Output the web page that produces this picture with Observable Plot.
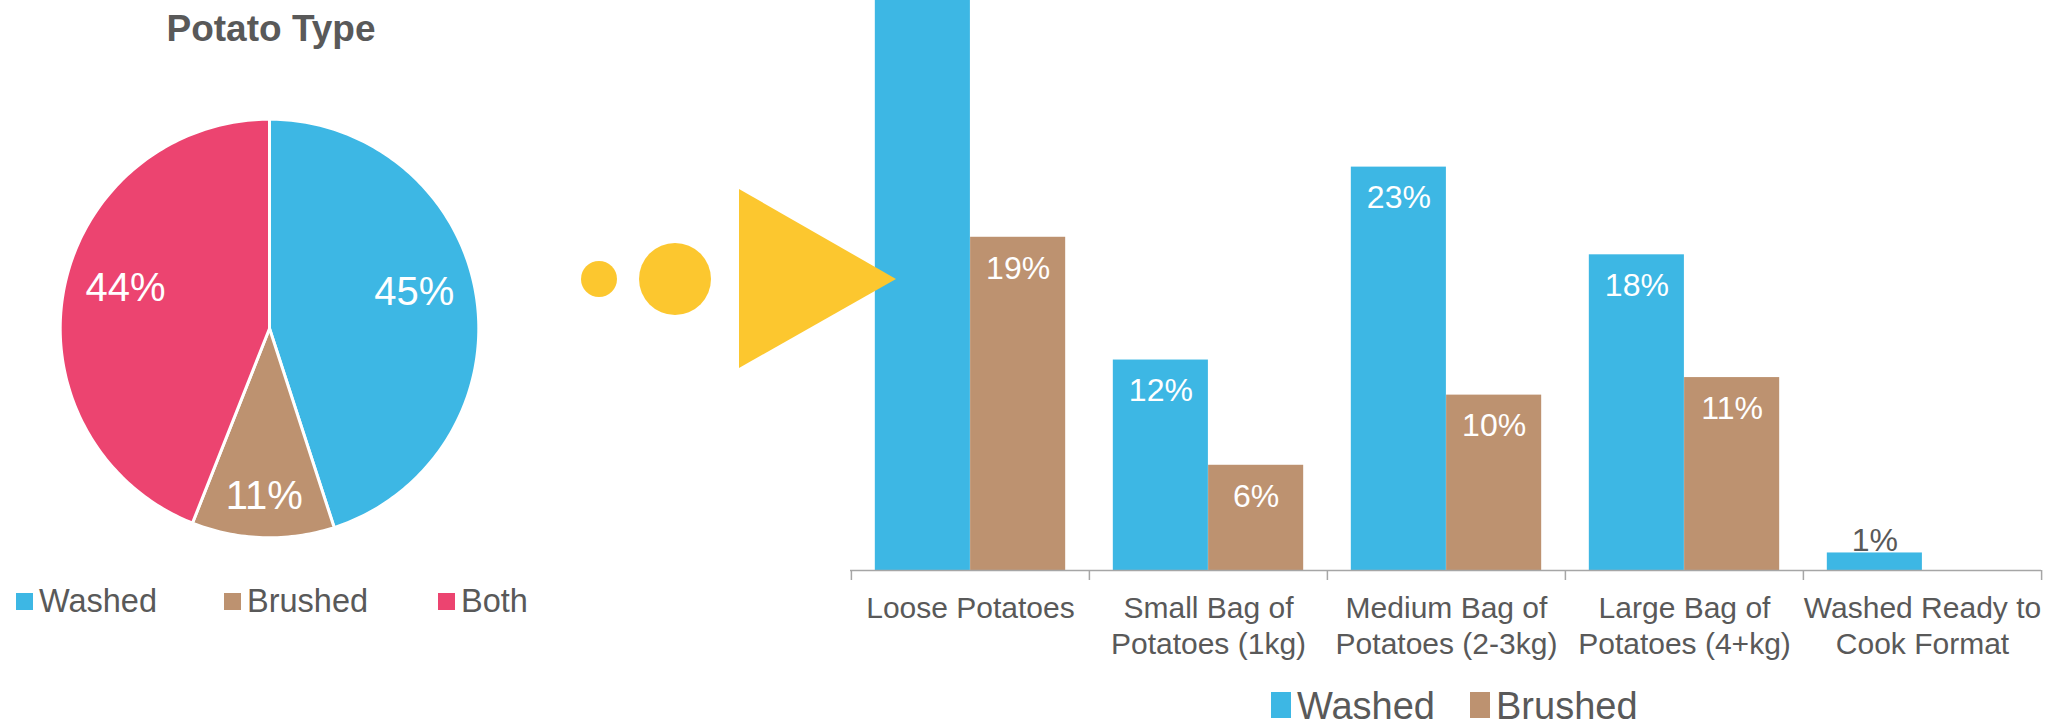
<!DOCTYPE html>
<html><head><meta charset="utf-8">
<script src="https://cdn.jsdelivr.net/npm/d3@7"></script>
<script src="https://cdn.jsdelivr.net/npm/@observablehq/plot@0.6"></script>
<style>
body{margin:0;background:#fff;}
#root{position:relative;width:2045px;height:726px;overflow:hidden;font-family:"Liberation Sans",Arial,sans-serif;background:#fff;}
.abs{position:absolute;}
.lg{position:absolute;color:#595959;white-space:nowrap;}
.sw{position:absolute;}
</style></head><body><div id="root"></div>
<script>
// ---- data ----
const pieTitle = "Potato Type";
const pieLabels = ["Washed", "Brushed", "Both"];
const pieValues = [45, 11, 44];
const pieColors = ["#3DB7E4", "#BD9270", "#EC4470"];

const categories = ["Loose Potatoes", "Small Bag of\nPotatoes (1kg)", "Medium Bag of\nPotatoes (2-3kg)", "Large Bag of\nPotatoes (4+kg)", "Washed Ready to\nCook Format"];
const seriesNames = ["Washed", "Brushed"];
const washed = [35, 12, 23, 18, 1];
const brushed = [19, 6, 10, 11, 0];
const seriesColors = ["#3DB7E4", "#BD9270"];
const accent = "#FCC72F";

const root = document.getElementById("root");
const FONT = '"Liberation Sans", Arial, sans-serif';
const GREY = "#595959";

// ---- pie ----
const total = d3.sum(pieValues);
let acc = 0;
const slices = pieLabels.map((k, i) => {
  const a0 = acc / total * 2 * Math.PI; acc += pieValues[i];
  const a1 = acc / total * 2 * Math.PI;
  return {key: k, value: pieValues[i], a0, a1};
});
const piePts = slices.flatMap(s => {
  const n = Math.max(2, Math.ceil((s.a1 - s.a0) / (Math.PI / 180)));
  const pts = [{key: s.key, x: 0, y: 0}];
  for (let j = 0; j <= n; j++) {
    const a = s.a0 + (s.a1 - s.a0) * j / n;
    pts.push({key: s.key, x: Math.sin(a), y: Math.cos(a)});
  }
  pts.push({key: s.key, x: 0, y: 0});
  return pts;
});
const pieLab = slices.map(s => {
  const m = (s.a0 + s.a1) / 2;
  const f = s.value < 15 ? 0.8 : 0.7;
  return {key: s.key, text: s.value + "%", x: f * Math.sin(m), y: f * Math.cos(m), big: s.value >= 15};
});
const R = 1.29;
const pie = Plot.plot({
  width: 540, height: 540, margin: 0,
  x: {domain: [-R, R], axis: null},
  y: {domain: [-R, R], axis: null},
  color: {domain: pieLabels, range: pieColors},
  style: {background: "transparent", fontFamily: FONT},
  marks: [
    Plot.line(piePts, {x: "x", y: "y", z: "key", fill: "key", stroke: "white", strokeWidth: 3, strokeLinejoin: "round"}),
    Plot.text(pieLab.filter(d => d.big), {x: "x", y: "y", text: "text", fill: "white", fontSize: 40, dy: -13}),
    Plot.text(pieLab.filter(d => !d.big), {x: "x", y: "y", text: "text", fill: "white", fontSize: 40})
  ]
});
pie.style.position = "absolute"; pie.style.left = "-1px"; pie.style.top = "58px";
root.appendChild(pie);

const title = document.createElement("div");
title.className = "abs";
Object.assign(title.style, {left: "71px", width: "400px", top: "6px", textAlign: "center", fontWeight: "bold", fontSize: "37px", color: GREY, lineHeight: "46px"});
title.textContent = pieTitle;
root.appendChild(title);

// pie legend
const pieLegendX = [16, 224, 438];
pieLabels.forEach((k, i) => {
  const sw = document.createElement("div");
  sw.className = "sw";
  Object.assign(sw.style, {left: pieLegendX[i] + "px", top: "593px", width: "17px", height: "17px", background: pieColors[i]});
  root.appendChild(sw);
  const t = document.createElement("div");
  t.className = "lg";
  Object.assign(t.style, {left: (pieLegendX[i] + 23) + "px", top: "583px", fontSize: "32.5px", lineHeight: "36px"});
  t.textContent = k;
  root.appendChild(t);
});

// ---- bar chart ----
const W = 1205, ML = 10, MR = 4, H = 670, MB = 100;
const bw = (W - ML - MR) / categories.length;
const ymax = 32.5;
const pxPerUnit = (H - MB) / ymax;
const barData = categories.flatMap((c, i) => [
  {cat: c, series: seriesNames[0], value: washed[i]},
  {cat: c, series: seriesNames[1], value: brushed[i]}
]).filter(d => d.value > 0);
const wData = barData.filter(d => d.series === seriesNames[0]);
const bData = barData.filter(d => d.series === seriesNames[1]);
// labels of bars running past the visible top are cropped out in the source picture
const inside = d => d.value >= 3 && d.value < ymax;
const outside = d => d.value < 3;

const bar = Plot.plot({
  width: W, height: H, marginLeft: ML, marginRight: MR, marginTop: 0, marginBottom: MB,
  x: {type: "band", domain: categories, padding: 0, axis: null},
  y: {domain: [0, ymax], axis: null},
  style: {background: "transparent", fontFamily: FONT},
  marks: [
    Plot.barY(wData, {x: "cat", y: "value", fill: seriesColors[0], insetLeft: 0.1 * bw, insetRight: 0.5 * bw, clip: true}),
    Plot.barY(bData, {x: "cat", y: "value", fill: seriesColors[1], insetLeft: 0.5 * bw, insetRight: 0.1 * bw, clip: true}),
    Plot.ruleY([0], {stroke: "#A6A6A6", strokeWidth: 1.5}),
    Plot.ruleX(categories, {x: d => d, dx: -bw / 2, y1: 0, y2: -10 / pxPerUnit, stroke: "#A6A6A6", strokeWidth: 1.5}),
    Plot.ruleX(categories.slice(-1), {x: d => d, dx: bw / 2, y1: 0, y2: -10 / pxPerUnit, stroke: "#A6A6A6", strokeWidth: 1.5}),
    Plot.text(wData.filter(inside), {x: "cat", y: "value", text: d => d.value + "%", dx: -0.2 * bw, dy: 31, fill: "white", fontSize: 32}),
    Plot.text(bData.filter(inside), {x: "cat", y: "value", text: d => d.value + "%", dx: 0.2 * bw, dy: 31, fill: "white", fontSize: 32}),
    Plot.text(wData.filter(outside), {x: "cat", y: "value", text: d => d.value + "%", dx: -0.2 * bw, dy: -12, fill: GREY, fontSize: 32}),
    Plot.text(bData.filter(outside), {x: "cat", y: "value", text: d => d.value + "%", dx: 0.2 * bw, dy: -12, fill: GREY, fontSize: 32}),
    Plot.text(categories, {x: d => d, text: d => d, frameAnchor: "bottom", lineAnchor: "top", dy: 23, fontSize: 30, lineHeight: 1.17, fill: GREY})
  ]
});
bar.style.position = "absolute"; bar.style.left = "840px"; bar.style.top = "0px";
root.appendChild(bar);

// bar legend
const barLegendX = [1271, 1470];
seriesNames.forEach((k, i) => {
  const sw = document.createElement("div");
  sw.className = "sw";
  Object.assign(sw.style, {left: barLegendX[i] + "px", top: "692px", width: "20px", height: "26px", background: seriesColors[i]});
  root.appendChild(sw);
  const t = document.createElement("div");
  t.className = "lg";
  Object.assign(t.style, {left: (barLegendX[i] + 26) + "px", top: "684px", fontSize: "38px", lineHeight: "44px"});
  t.textContent = k;
  root.appendChild(t);
});

// decorative arrow (dots + triangle), drawn on top
const deco = d3.create("svg").attr("width", 2045).attr("height", 726)
  .style("position", "absolute").style("left", "0px").style("top", "0px").style("pointer-events", "none");
deco.append("circle").attr("cx", 599).attr("cy", 279).attr("r", 18).attr("fill", accent);
deco.append("circle").attr("cx", 675).attr("cy", 279).attr("r", 36).attr("fill", accent);
deco.append("polygon").attr("points", "739,189 739,368 896,279").attr("fill", accent);
root.appendChild(deco.node());
</script></body></html>
